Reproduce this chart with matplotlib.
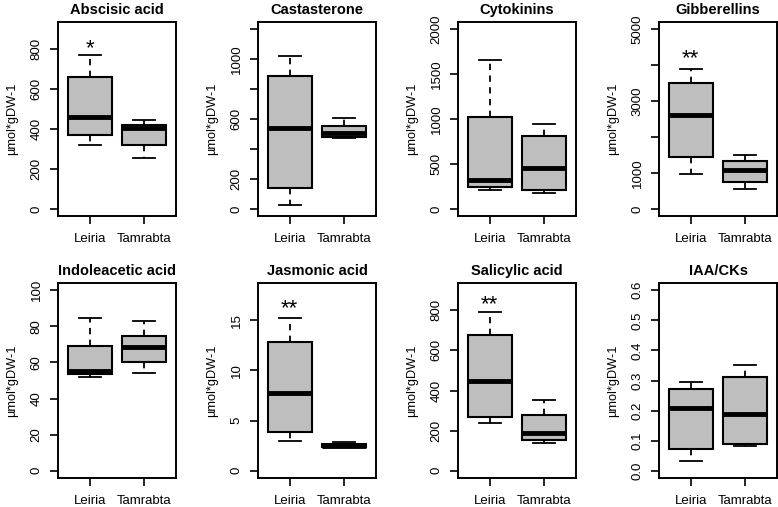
import numpy as np
import matplotlib
matplotlib.use("Agg")
import matplotlib.pyplot as plt

plt.rcParams['font.family'] = ['Liberation Sans', 'DejaVu Sans']

groups = ['Leiria', 'Tamrabta']
titles = ['Abscisic acid', 'Castasterone', 'Cytokinins', 'Gibberellins',
          'Indoleacetic acid', 'Jasmonic acid', 'Salicylic acid', 'IAA/CKs']

# [whisker low, q1, median, q3, whisker high] for Leiria, Tamrabta
abscisic = [[320, 370, 462, 658, 773], [257, 320, 405, 420, 445]]
castasterone = [[27, 138, 538, 887, 1022], [470, 482, 509, 553, 609]]
cytokinins = [[204, 248, 322, 1026, 1652], [181, 207, 459, 811, 948]]
gibberellins = [[963, 1444, 2611, 3500, 3898], [565, 759, 1083, 1333, 1509]]
indoleacetic = [[51.9, 53.7, 55.2, 69.1, 84.6], [53.9, 60.4, 68.5, 74.4, 83.1]]
jasmonic = [[2.93, 3.9, 7.77, 12.87, 15.27], [2.35, 2.4, 2.52, 2.7, 2.9]]
salicylic = [[240, 268, 450, 678, 793], [138, 152, 187, 277, 352]]
iaa_cks = [[0.033, 0.073, 0.21, 0.272, 0.294], [0.084, 0.089, 0.188, 0.313, 0.35]]
panels = [abscisic, castasterone, cytokinins, gibberellins,
          indoleacetic, jasmonic, salicylic, iaa_cks]

ymax = [900, 1200, 2000, 5000, 100, 18, 900, 0.6]
ticks = [np.arange(0, 801, 200), np.arange(0, 1201, 200), np.arange(0, 2001, 500),
         np.arange(0, 5001, 1000), np.arange(0, 101, 20), np.arange(0, 16, 5),
         np.arange(0, 801, 200), np.arange(0, 0.61, 0.1)]
tick_labels = [['0', '200', '400', '600', '800'],
               ['0', '200', '', '600', '', '1000', ''],
               ['0', '500', '1000', '1500', '2000'],
               ['0', '1000', '', '3000', '', '5000'],
               ['0', '20', '40', '60', '80', '100'],
               ['0', '5', '10', '15'],
               ['0', '200', '400', '600', '800'],
               ['0.0', '0.1', '0.2', '0.3', '0.4', '0.5', '0.6']]
# significance marks above Leiria
stars = {0: ('*', 832), 3: ('**', 4324), 5: ('**', 16.7), 6: ('**', 855)}

W, H = 778, 507
fig = plt.figure(figsize=(W / 100, H / 100), dpi=100)
lefts = [58, 258, 458, 659]
rows = [(22, 216), (283, 478)]
aw = 118

for i, data in enumerate(panels):
    r, c = divmod(i, 4)
    top, bot = rows[r]
    ax = fig.add_axes([lefts[c] / W, 1 - bot / H, aw / W, (bot - top) / H])
    stats = []
    for g, v in zip(groups, data):
        stats.append(dict(label=g, whislo=v[0], q1=v[1], med=v[2], q3=v[3], whishi=v[4]))
    ax.bxp(stats, positions=[1, 2], widths=0.8, capwidths=0.4, showfliers=False,
           patch_artist=True,
           boxprops=dict(facecolor='#BEBEBE', edgecolor='black', linewidth=1.5),
           medianprops=dict(color='black', linewidth=3.5, solid_capstyle='butt'),
           whiskerprops=dict(color='black', linewidth=1.3, linestyle=(0, (3.5, 3))),
           capprops=dict(color='black', linewidth=1.3))
    ax.set_xlim(0.42, 2.58)
    ym = ymax[i]
    ax.set_ylim(-0.04 * ym, 1.04 * ym)
    ax.set_yticks(ticks[i])
    ax.set_yticklabels(tick_labels[i], rotation=90, va='center')
    ax.set_xticks([1, 2])
    ax.set_xticklabels(groups)
    ax.tick_params(axis='both', direction='out', length=6, width=1.2, labelsize=9.5,
                   color='black')
    ax.tick_params(axis='x', pad=6)
    ax.tick_params(axis='y', pad=5)
    for s in ax.spines.values():
        s.set_linewidth(1.4)
    ax.set_title(titles[i], fontsize=10.5, fontweight='bold', pad=6)
    ax.set_ylabel('µmol*gDW-1', fontsize=9.2)
    ax.yaxis.set_label_coords(-0.34, 0.5)
    if i in stars:
        s, y = stars[i]
        ax.annotate(s, (1, y), xytext=(0, -4), textcoords='offset points',
                    ha='center', va='center', fontsize=16)

fig.savefig('out.png', dpi=100)
